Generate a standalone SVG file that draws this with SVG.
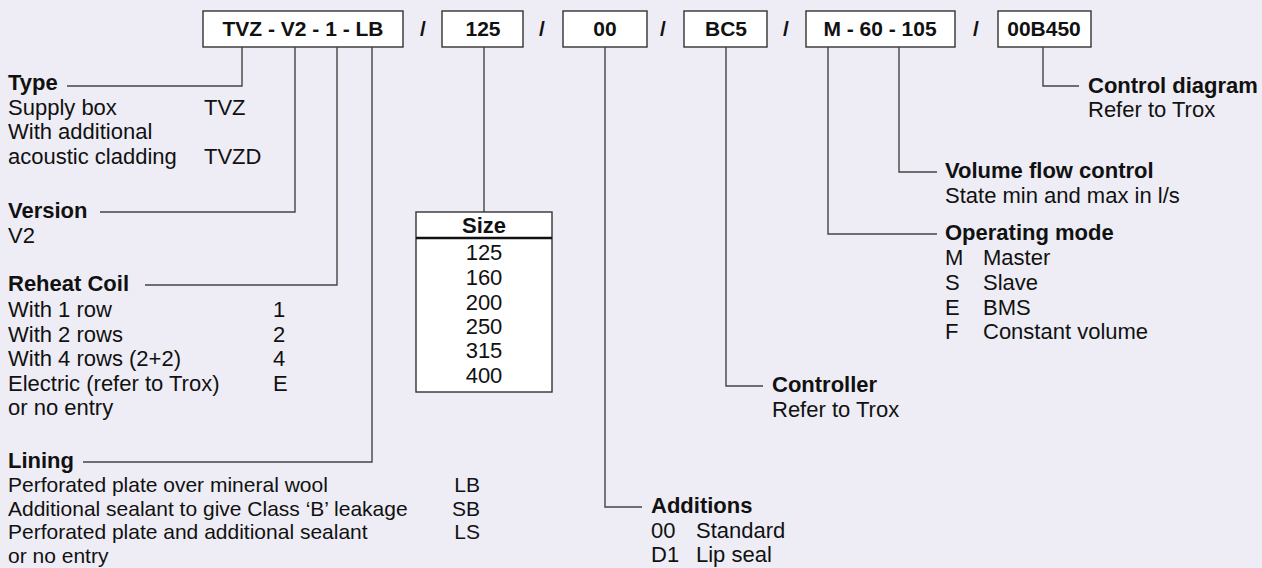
<svg xmlns="http://www.w3.org/2000/svg" width="1262" height="568" viewBox="0 0 1262 568">
<style>
text{font-family:"Liberation Sans",Arial,sans-serif;fill:#111;font-size:22px}
.b{font-weight:bold}
.bx{font-weight:bold;font-size:21px;text-anchor:middle}
.c{text-anchor:middle}
.e{text-anchor:end}
.s{font-size:21px}
.box{fill:#fff;stroke:#333;stroke-width:1.4}
.ln{fill:none;stroke:#444;stroke-width:1.4}
</style>
<rect width="1262" height="568" fill="#EEEDF5"/>
<g id="code">
<g id="box-type"><rect class="box" x="203" y="11" width="200" height="36"/><text class="bx" x="303" y="36">TVZ - V2 - 1 - LB</text></g>
<text class="bx" x="423" y="36">/</text>
<g id="box-size"><rect class="box" x="442" y="11" width="81" height="36"/><text class="bx" x="483" y="36">125</text></g>
<text class="bx" x="542" y="36">/</text>
<g id="box-add"><rect class="box" x="563" y="11" width="84" height="36"/><text class="bx" x="605" y="36">00</text></g>
<text class="bx" x="663" y="36">/</text>
<g id="box-ctrl"><rect class="box" x="684" y="11" width="83" height="36"/><text class="bx" x="726" y="36">BC5</text></g>
<text class="bx" x="786" y="36">/</text>
<g id="box-mode"><rect class="box" x="806" y="11" width="149" height="36"/><text class="bx" x="880" y="36">M - 60 - 105</text></g>
<text class="bx" x="976" y="36">/</text>
<g id="box-diag"><rect class="box" x="998" y="11" width="93" height="36"/><text class="bx" x="1044" y="36">00B450</text></g>
</g>
<g id="connectors">
<polyline class="ln" points="242,47 242,86 67,86"/>
<polyline class="ln" points="295,47 295,212 100,212"/>
<polyline class="ln" points="337,47 337,285 145,285"/>
<polyline class="ln" points="372,47 372,462 83,462"/>
<line class="ln" x1="484" y1="47" x2="484" y2="212"/>
<polyline class="ln" points="605,47 605,507 642,507"/>
<polyline class="ln" points="726,47 726,386 763,386"/>
<polyline class="ln" points="828,47 828,234 937,234"/>
<polyline class="ln" points="899,47 899,172 937,172"/>
<polyline class="ln" points="1043,47 1043,86 1079,86"/>
</g>
<g id="type">
<text class="b" x="8" y="90">Type</text>
<text x="8" y="115">Supply box</text><text x="204" y="115">TVZ</text>
<text x="8" y="139">With additional</text>
<text x="8" y="164">acoustic cladding</text><text x="204" y="164">TVZD</text>
</g>
<g id="version">
<text class="b" x="8" y="218">Version</text>
<text x="8" y="243">V2</text>
</g>
<g id="reheat">
<text class="b" x="8" y="291">Reheat Coil</text>
<text x="8" y="317">With 1 row</text><text x="273" y="317">1</text>
<text x="8" y="342">With 2 rows</text><text x="273" y="342">2</text>
<text x="8" y="366">With 4 rows (2+2)</text><text x="273" y="366">4</text>
<text x="8" y="391">Electric (refer to Trox)</text><text x="273" y="391">E</text>
<text x="8" y="415">or no entry</text>
</g>
<g id="lining">
<text class="b" x="8" y="468">Lining</text>
<text class="s" x="8" y="492">Perforated plate over mineral wool</text><text class="s e" x="480" y="492">LB</text>
<text class="s" x="8" y="515.5">Additional sealant to give Class ‘B’ leakage</text><text class="s e" x="480" y="515.5">SB</text>
<text class="s" x="8" y="539">Perforated plate and additional sealant</text><text class="s e" x="480" y="539">LS</text>
<text class="s" x="8" y="562.5">or no entry</text>
</g>
<g id="size">
<rect class="box" x="416" y="212" width="136" height="180"/>
<line x1="416" y1="238" x2="552" y2="238" stroke="#111" stroke-width="2.5"/>
<text class="b c" x="484" y="233">Size</text>
<text class="c" x="484" y="260">125</text>
<text class="c" x="484" y="285">160</text>
<text class="c" x="484" y="310">200</text>
<text class="c" x="484" y="334">250</text>
<text class="c" x="484" y="358">315</text>
<text class="c" x="484" y="383">400</text>
</g>
<g id="additions">
<text class="b" x="651" y="513">Additions</text>
<text x="651" y="538">00</text><text x="696" y="538">Standard</text>
<text x="651" y="562">D1</text><text x="696" y="562">Lip seal</text>
</g>
<g id="controller">
<text class="b" x="772" y="392">Controller</text>
<text x="772" y="417">Refer to Trox</text>
</g>
<g id="opmode">
<text class="b" x="945" y="240">Operating mode</text>
<text x="945" y="265">M</text><text x="983" y="265">Master</text>
<text x="945" y="290">S</text><text x="983" y="290">Slave</text>
<text x="945" y="315">E</text><text x="983" y="315">BMS</text>
<text x="945" y="339">F</text><text x="983" y="339">Constant volume</text>
</g>
<g id="volume">
<text class="b" x="945" y="178">Volume flow control</text>
<text x="945" y="203">State min and max in l/s</text>
</g>
<g id="diagram">
<text class="b" x="1088" y="93">Control diagram</text>
<text x="1088" y="117">Refer to Trox</text>
</g>
</svg>
